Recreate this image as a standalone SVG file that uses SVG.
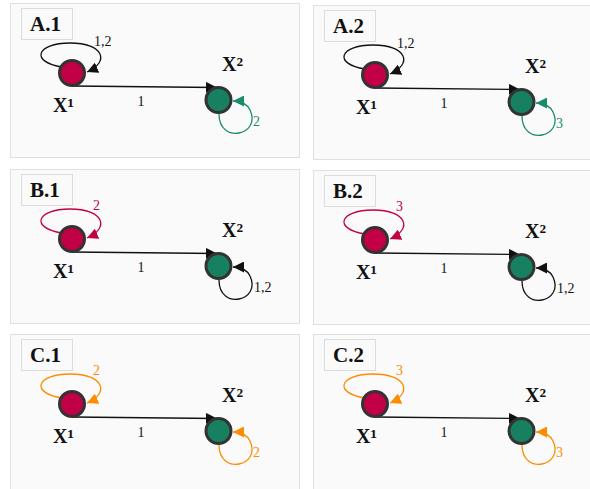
<svg xmlns="http://www.w3.org/2000/svg" width="590" height="489" viewBox="0 0 590 489">
<style>
.panel{fill:#fafafa;stroke:#e0e0e0;stroke-width:1}
.tag rect{fill:#fafafa;stroke:#dcdcdc;stroke-width:1}
.tag text{font-family:"Liberation Serif",serif;font-weight:bold;font-size:21px;fill:#111}
.n1{fill:#c20045;stroke:#333;stroke-width:3}
.n2{fill:#168060;stroke:#333;stroke-width:3}
.nl{font-family:"Liberation Serif",serif;font-weight:bold;font-size:20px;fill:#111}
.sup{font-size:22px}
.e{fill:none;stroke-width:1.3}
.k{stroke:#111}
.g{stroke:#1a8c6a}
.r{stroke:#c20045}
.o{stroke:#ff8c00}
.el{font-family:"Liberation Serif",serif;font-size:14px}
.tk{fill:#111}
.tg{fill:#1a8c6a}
.tr{fill:#c20045}
.to{fill:#ff8c00}
</style>
<defs>
<marker id="ak" markerUnits="userSpaceOnUse" markerWidth="11" markerHeight="11" refX="11" refY="5.5" orient="auto"><path d="M0,0 L11,5.5 L0,11 z" fill="#111"/></marker>
<marker id="ag" markerUnits="userSpaceOnUse" markerWidth="11" markerHeight="11" refX="11" refY="5.5" orient="auto"><path d="M0,0 L11,5.5 L0,11 z" fill="#1a8c6a"/></marker>
<marker id="ar" markerUnits="userSpaceOnUse" markerWidth="11" markerHeight="11" refX="11" refY="5.5" orient="auto"><path d="M0,0 L11,5.5 L0,11 z" fill="#c20045"/></marker>
<marker id="ao" markerUnits="userSpaceOnUse" markerWidth="11" markerHeight="11" refX="11" refY="5.5" orient="auto"><path d="M0,0 L11,5.5 L0,11 z" fill="#ff8c00"/></marker>
</defs>

<!-- A.1 -->
<g id="panel-A1">
<rect class="panel" x="10.5" y="3.5" width="289" height="154"/>
<g class="tag" id="tag-A1"><rect x="21.5" y="8.5" width="51" height="31"/><text x="30" y="31">A.1</text></g>
<g id="connectors-A1">
<path class="e k" d="M62,67 C30,62 36,43 70,43 C104,43 110,62 87,72" marker-end="url(#ak)"/>
<text class="el tk" x="94" y="46">1,2</text>
<path class="e k" d="M72,86 L217,87.5" marker-end="url(#ak)"/>
<text class="el tk" x="141" y="106" text-anchor="middle">1</text>
<path class="e g" d="M219,114 C219,145 262,135 250,110 C247,104 242,101 233,101" marker-end="url(#ag)"/>
<text class="el tg" x="253" y="126">2</text>
</g>
<g id="node-A1-x1"><circle class="n1" cx="72" cy="73" r="12.5"/><text class="nl" x="53" y="112">X<tspan class="sup" dy="1">¹</tspan></text></g>
<g id="node-A1-x2"><circle class="n2" cx="218.5" cy="100" r="12.5"/><text class="nl" x="222" y="71">X<tspan class="sup" dy="1">²</tspan></text></g>
</g>

<!-- A.2 -->
<g id="panel-A2" transform="translate(303,2)">
<rect class="panel" x="10.5" y="3.5" width="289" height="154"/>
<g class="tag" id="tag-A2"><rect x="21.5" y="8.5" width="51" height="31"/><text x="30" y="31">A.2</text></g>
<g id="connectors-A2">
<path class="e k" d="M62,67 C30,62 36,43 70,43 C104,43 110,62 87,72" marker-end="url(#ak)"/>
<text class="el tk" x="94" y="46">1,2</text>
<path class="e k" d="M72,86 L217,87.5" marker-end="url(#ak)"/>
<text class="el tk" x="141" y="106" text-anchor="middle">1</text>
<path class="e g" d="M219,114 C219,145 262,135 250,110 C247,104 242,101 233,101" marker-end="url(#ag)"/>
<text class="el tg" x="253" y="126">3</text>
</g>
<g id="node-A2-x1"><circle class="n1" cx="72" cy="73" r="12.5"/><text class="nl" x="53" y="112">X<tspan class="sup" dy="1">¹</tspan></text></g>
<g id="node-A2-x2"><circle class="n2" cx="218.5" cy="100" r="12.5"/><text class="nl" x="222" y="71">X<tspan class="sup" dy="1">²</tspan></text></g>
</g>

<!-- B.1 -->
<g id="panel-B1" transform="translate(0,166)">
<rect class="panel" x="10.5" y="3.5" width="289" height="154"/>
<g class="tag" id="tag-B1"><rect x="21.5" y="8.5" width="51" height="31"/><text x="30" y="31">B.1</text></g>
<g id="connectors-B1">
<path class="e r" d="M62,67 C30,62 36,43 70,43 C104,43 110,62 87,72" marker-end="url(#ar)"/>
<text class="el tr" x="93" y="44">2</text>
<path class="e k" d="M72,86 L217,87.5" marker-end="url(#ak)"/>
<text class="el tk" x="141" y="106" text-anchor="middle">1</text>
<path class="e k" d="M219,114 C219,145 262,135 250,110 C247,104 242,101 233,101" marker-end="url(#ak)"/>
<text class="el tk" x="254" y="126">1,2</text>
</g>
<g id="node-B1-x1"><circle class="n1" cx="72" cy="73" r="12.5"/><text class="nl" x="53" y="112">X<tspan class="sup" dy="1">¹</tspan></text></g>
<g id="node-B1-x2"><circle class="n2" cx="218.5" cy="100" r="12.5"/><text class="nl" x="222" y="71">X<tspan class="sup" dy="1">²</tspan></text></g>
</g>

<!-- B.2 -->
<g id="panel-B2" transform="translate(303,167)">
<rect class="panel" x="10.5" y="3.5" width="289" height="154"/>
<g class="tag" id="tag-B2"><rect x="21.5" y="8.5" width="51" height="31"/><text x="30" y="31">B.2</text></g>
<g id="connectors-B2">
<path class="e r" d="M62,67 C30,62 36,43 70,43 C104,43 110,62 87,72" marker-end="url(#ar)"/>
<text class="el tr" x="93" y="44">3</text>
<path class="e k" d="M72,86 L217,87.5" marker-end="url(#ak)"/>
<text class="el tk" x="141" y="106" text-anchor="middle">1</text>
<path class="e k" d="M219,114 C219,145 262,135 250,110 C247,104 242,101 233,101" marker-end="url(#ak)"/>
<text class="el tk" x="254" y="126">1,2</text>
</g>
<g id="node-B2-x1"><circle class="n1" cx="72" cy="73" r="12.5"/><text class="nl" x="53" y="112">X<tspan class="sup" dy="1">¹</tspan></text></g>
<g id="node-B2-x2"><circle class="n2" cx="218.5" cy="100" r="12.5"/><text class="nl" x="222" y="71">X<tspan class="sup" dy="1">²</tspan></text></g>
</g>

<!-- C.1 -->
<g id="panel-C1" transform="translate(0,331)">
<rect class="panel" x="10.5" y="3.5" width="289" height="164"/>
<g class="tag" id="tag-C1"><rect x="21.5" y="8.5" width="51" height="31"/><text x="30" y="31">C.1</text></g>
<g id="connectors-C1">
<path class="e o" d="M62,67 C30,62 36,43 70,43 C104,43 110,62 87,72" marker-end="url(#ao)"/>
<text class="el to" x="93" y="44">2</text>
<path class="e k" d="M72,86 L217,87.5" marker-end="url(#ak)"/>
<text class="el tk" x="141" y="106" text-anchor="middle">1</text>
<path class="e o" d="M219,114 C219,145 262,135 250,110 C247,104 242,101 233,101" marker-end="url(#ao)"/>
<text class="el to" x="253" y="126">2</text>
</g>
<g id="node-C1-x1"><circle class="n1" cx="72" cy="73" r="12.5"/><text class="nl" x="53" y="112">X<tspan class="sup" dy="1">¹</tspan></text></g>
<g id="node-C1-x2"><circle class="n2" cx="218.5" cy="100" r="12.5"/><text class="nl" x="222" y="71">X<tspan class="sup" dy="1">²</tspan></text></g>
</g>

<!-- C.2 -->
<g id="panel-C2" transform="translate(303,331)">
<rect class="panel" x="10.5" y="3.5" width="289" height="164"/>
<g class="tag" id="tag-C2"><rect x="21.5" y="8.5" width="51" height="31"/><text x="30" y="31">C.2</text></g>
<g id="connectors-C2">
<path class="e o" d="M62,67 C30,62 36,43 70,43 C104,43 110,62 87,72" marker-end="url(#ao)"/>
<text class="el to" x="93" y="44">3</text>
<path class="e k" d="M72,86 L217,87.5" marker-end="url(#ak)"/>
<text class="el tk" x="141" y="106" text-anchor="middle">1</text>
<path class="e o" d="M219,114 C219,145 262,135 250,110 C247,104 242,101 233,101" marker-end="url(#ao)"/>
<text class="el to" x="253" y="126">3</text>
</g>
<g id="node-C2-x1"><circle class="n1" cx="72" cy="73" r="12.5"/><text class="nl" x="53" y="112">X<tspan class="sup" dy="1">¹</tspan></text></g>
<g id="node-C2-x2"><circle class="n2" cx="218.5" cy="100" r="12.5"/><text class="nl" x="222" y="71">X<tspan class="sup" dy="1">²</tspan></text></g>
</g>
</svg>
